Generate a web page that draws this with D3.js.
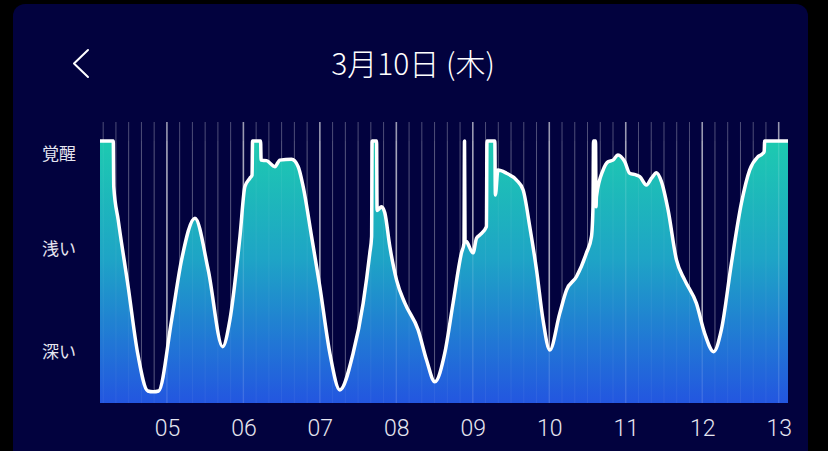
<!DOCTYPE html>
<html><head><meta charset="utf-8">
<script src="https://cdn.jsdelivr.net/npm/d3@7"></script>
<style>
html,body{margin:0;padding:0;background:#000;}
svg{display:block;}
</style></head>
<body>
<svg id="chart" width="828" height="451"></svg>
<script>
// ---- data ----
const title = "3月10日 (木)";
const levelLabels = ["覚醒", "浅い", "深い"];
const levelValues = [95, 59, 19.6];
const hourTicks = ["05","06","07","08","09","10","11","12","13"];
// minutes after 04:00 and sleep depth value (100 = awake)
const minutes = [7.5,17.9,18.3,21.8,29.6,37.0,45.0,49.3,53.5,63.7,71.5,82.0,92.4,103.7,109.4,117.3,121.2,125.1,126.8,127.2,133.5,133.9,138.2,144.7,148.6,157.8,163.0,166.9,173.5,180.0,187.8,195.7,206.1,214.0,219.2,220.6,221.0,224.5,224.9,228.4,231.0,234.9,240.2,246.7,257.1,263.7,270.2,278.0,284.5,291.1,293.1,293.5,293.9,295.1,300.2,302.9,305.5,310.7,311.1,317.3,317.7,319.7,326.4,334.3,339.5,344.7,350.0,355.1,360.4,368.2,373.5,381.3,389.2,393.1,394.3,394.7,396.3,396.7,397.0,402.2,406.1,410.0,413.9,419.2,423.1,428.4,431.0,436.2,440.2,444.1,448.0,453.2,459.8,466.3,475.4,481.9,489.0,495.0,502.9,510.7,517.2,523.7,527.7,528.6,529.0,547.3];
const depth   = [100,100,82.6,69.8,44.4,19.1,4.6,4.3,4.6,31.7,54.6,70.5,50.8,21.5,31.7,63.5,82.6,85.8,87,100,100,92.7,92.5,90.2,92.7,93.0,90.2,82.6,63.5,44.4,19.1,5.0,19.0,38.2,57.3,63.5,100,100,73.5,74.9,72.5,59.7,46.9,38.1,27.9,16.4,8.1,19.0,38.1,57.3,61.0,100,62,61.6,57.3,62.9,64.1,67.3,100,100,79.4,88.9,87.7,85.1,81.3,67.3,50.8,31.7,20.2,34.2,43.1,48.2,57.3,63.5,74.9,100,100,74.9,78.7,88.9,92.1,92.7,94.7,92.1,87.7,87.0,86.4,83.2,85.8,87.9,84.5,73.7,54.6,46.9,38.1,26.6,19.6,27.9,53.3,76.2,88.9,94.0,95.3,96,100,100];

const base = new Date(2022, 2, 10, 4, 0, 0);
const toDate = m => new Date(base.getTime() + m * 60000);
const data = minutes.map((m, i) => ({t: toDate(m), v: depth[i]}));

const svg = d3.select("#chart");
const W = 828, H = 451;

// panel
svg.append("rect").attr("x", 0).attr("y", 0).attr("width", W).attr("height", H).attr("fill", "#000");
svg.append("rect").attr("x", 13).attr("y", 4).attr("width", 795).attr("height", 470)
  .attr("rx", 12).attr("fill", "#02023e");

// header
svg.append("path").attr("d", "M88,50 L74,63.5 L88,77")
  .attr("fill", "none").attr("stroke", "#fff").attr("stroke-width", 2)
  .attr("stroke-linecap", "round").attr("stroke-linejoin", "round");
svg.append("text").attr("x", 413).attr("y", 75).attr("text-anchor", "middle")
  .attr("fill", "#fff").attr("font-family", "'Noto Sans CJK JP', sans-serif")
  .attr("font-weight", 300).attr("font-size", 30).text(title);

// scales
const x = d3.scaleTime().domain([toDate(7.5), toDate(547.3)]).range([100, 788]);
const y = d3.scaleLinear().domain([0, 100]).range([403, 141]);

// gradient
const defs = svg.append("defs");
const grad = defs.append("linearGradient").attr("id", "g").attr("gradientUnits", "userSpaceOnUse")
  .attr("x1", 0).attr("x2", 0).attr("y1", y(100)).attr("y2", y(0));
grad.append("stop").attr("offset", "0%").attr("stop-color", "#1dcab0");
grad.append("stop").attr("offset", "45%").attr("stop-color", "#1ea4c6");
grad.append("stop").attr("offset", "100%").attr("stop-color", "#2356e0");

// grid lines
const gridTicks = x.ticks(d3.timeMinute.every(10)).filter(d => x(d) > 101 && x(d) < 787);
const isHour = d => d.getMinutes() === 0;
const gridBack = svg.append("g");
gridBack.selectAll("line").data(gridTicks).join("line")
  .attr("x1", d => x(d)).attr("x2", d => x(d)).attr("y1", 122).attr("y2", 403)
  .attr("stroke", "#fff").attr("stroke-width", d => isHour(d) ? 1.6 : 1)
  .attr("stroke-opacity", d => isHour(d) ? 0.6 : 0.3);

// area + line
const curve = d3.curveMonotoneX;
const area = d3.area().x(d => x(d.t)).y0(y(0)).y1(d => y(d.v)).curve(curve);
const line = d3.line().x(d => x(d.t)).y(d => y(d.v)).curve(curve);
svg.append("path").datum(data).attr("d", area).attr("fill", "url(#g)");

const gridFront = svg.append("g");
gridFront.selectAll("line").data(gridTicks).join("line")
  .attr("x1", d => x(d)).attr("x2", d => x(d)).attr("y1", 141).attr("y2", 403)
  .attr("stroke", "#fff").attr("stroke-width", d => isHour(d) ? 1.4 : 1)
  .attr("stroke-opacity", d => isHour(d) ? 0.13 : 0.06);

svg.append("path").datum(data).attr("d", line).attr("fill", "none")
  .attr("stroke", "#fff").attr("stroke-width", 3.5).attr("stroke-linejoin", "round");

// y labels
svg.append("g").selectAll("text").data(levelValues).join("text")
  .attr("x", 42).attr("y", d => y(d)).attr("dy", "0.36em")
  .attr("fill", "#e6e6f0").attr("font-family", "'Noto Sans CJK JP', sans-serif")
  .attr("font-size", 17).text((d, i) => levelLabels[i]);

// x axis
const hourDates = hourTicks.map(h => new Date(2022, 2, 10, +h, 0, 0));
const xAxis = d3.axisBottom(x).tickValues(hourDates).tickSize(0).tickFormat(d3.timeFormat("%H"));
const ax = svg.append("g").attr("transform", "translate(0,413)").call(xAxis);
ax.select(".domain").remove();
ax.selectAll("text").attr("fill", "#e6e6f0").attr("font-family", "Roboto, sans-serif")
  .attr("font-weight", 300).attr("font-size", 23).attr("dy", "0.88em");
</script>
</body></html>
